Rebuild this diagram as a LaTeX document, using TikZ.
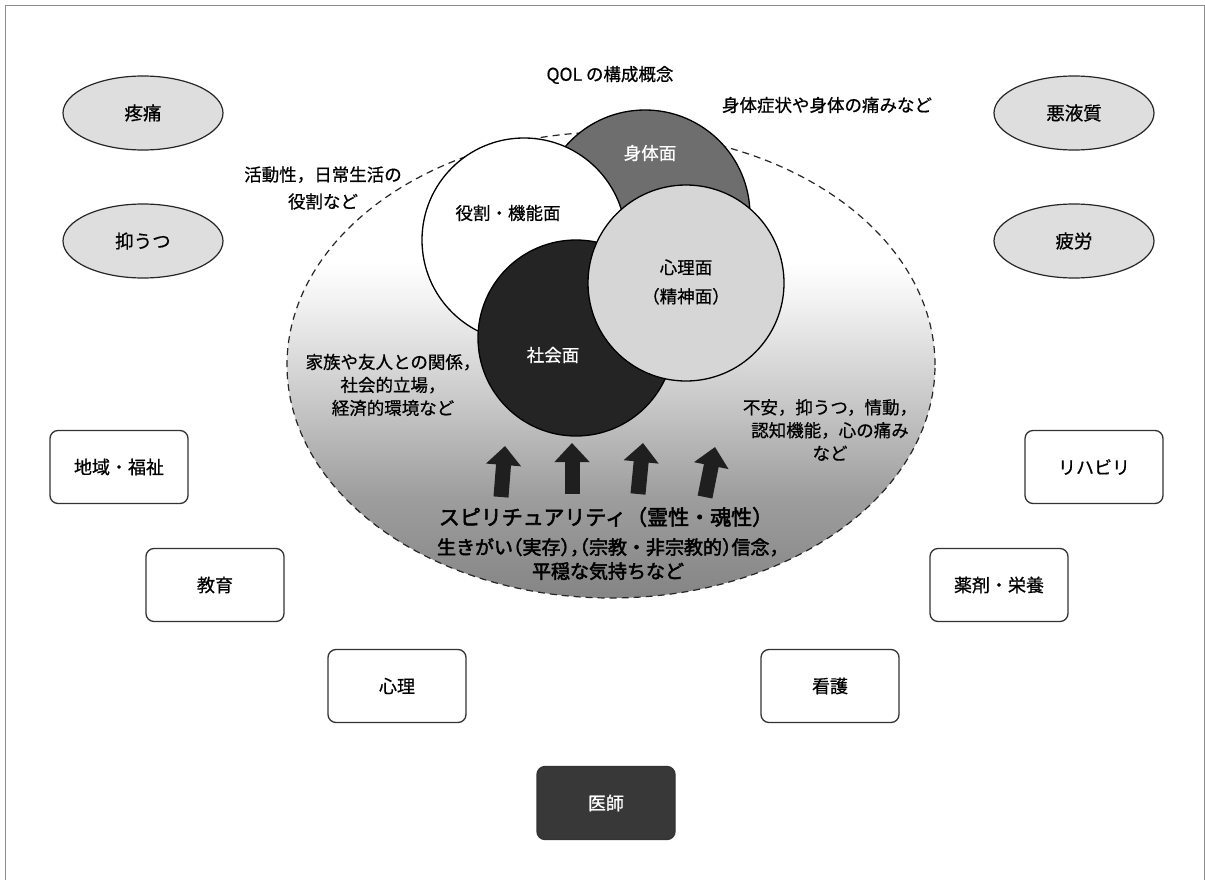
\documentclass[tikz,border=0pt]{standalone}
\usepackage{fontspec}
\setmainfont{Noto Sans CJK JP}[FakeBold=0.7]
\newfontfamily\jpbold{Noto Sans CJK JP}[FakeBold=2.5]
\newfontfamily\jpboldh{Noto Sans CJK JP}[FakeBold=2.2,RawFeature=+halt]
\newcommand{\halfp}[1]{{\jpboldh #1}}
\usetikzlibrary{arrows.meta,shapes.geometric}
\pgfdeclareverticalshading{qolshade}{100bp}{color(0bp)=(black!48); color(25bp)=(black!48); color(36bp)=(black!38); color(47bp)=(black!20); color(57bp)=(black!5); color(61bp)=(white); color(100bp)=(white)}
\begin{document}
\begin{tikzpicture}[x=1pt,y=-1pt,
  frame/.style={draw=black!45, line width=1pt},
  sym/.style={ellipse, draw=black!85, line width=1.2pt, fill=black!13, minimum width=160pt, minimum height=74pt, inner sep=0pt, font=\fontsize{18.5}{20}\selectfont},
  team/.style={rectangle, rounded corners=8pt, draw=black!80, line width=1.3pt, fill=white, minimum width=138pt, minimum height=73pt, font=\fontsize{18}{20}\selectfont},
  lbl/.style={align=center, font=\fontsize{17.5}{23}\selectfont, inner sep=0pt},
  face/.style={circle, draw=black, line width=1.3pt, inner sep=0pt},
  outer/.style={ellipse, draw=black!85, line width=1.2pt, dash pattern=on 7pt off 5pt, shading=qolshade, inner sep=0pt, minimum width=648pt, minimum height=466pt},
  bigarrow/.style={draw=black!88, line width=15pt, -{Triangle[length=19pt,width=34pt]}}
]
\useasboundingbox (0,0) rectangle (1205,880);
\fill[white] (0,0) rectangle (1205,880);
\draw[frame] (5,880) -- (5,6) -- (1204,6) -- (1204,880);

\node[lbl] (title) at (610,75) {QOL の構成概念};

% big dashed ellipse
\node[outer] (qol) at (611,365) {};

% four aspects
\node[face, fill=black!57, minimum size=210pt] (body) at (645,215) {};
\node[face, fill=white, minimum size=204pt] (role) at (524,240) {};
\node[face, fill=black!86, minimum size=196pt] (social) at (576,338) {};
\node[face, fill=black!16, minimum size=196pt] (mind) at (686,283) {};

\node[lbl, text=white] (bodyt) at (650,153) {身体面};
\node[lbl] (rolet) at (508,213) {役割・機能面};
\node[lbl, font=\fontsize{17.5}{29}\selectfont] (mindt) at (686,282) {心理面\\（精神面）};
\node[lbl, text=white] (socialt) at (553,355) {社会面};

% descriptions
\node[lbl] (bodyn) at (827,105) {身体症状や身体の痛みなど};
\node[lbl, font=\fontsize{17.5}{27}\selectfont] (rolen) at (323,188) {活動性，日常生活の\\役割など};
\node[lbl] (socn) at (393,385) {家族や友人との関係，\\社会的立場，\\経済的環境など};
\node[lbl] (mindn) at (830,430) {不安，抑うつ，情動，\\認知機能，心の痛み\\など};

% arrows
\coordinate (a1s) at (501,497); \coordinate (a1t) at (505,446);
\coordinate (a2s) at (572,494); \coordinate (a2t) at (572,443);
\coordinate (a3s) at (638,494); \coordinate (a3t) at (643,443);
\coordinate (a4s) at (705,497); \coordinate (a4t) at (715,447);
\draw[bigarrow] (a1s) -- (a1t);
\draw[bigarrow] (a2s) -- (a2t);
\draw[bigarrow] (a3s) -- (a3t);
\draw[bigarrow] (a4s) -- (a4t);

\node[lbl, font=\jpbold\fontsize{21}{22}\selectfont] (spirit) at (606,517) {スピリチュアリティ（霊性・魂性）};
\node[lbl, font=\jpbold\fontsize{19}{24}\selectfont] (spiritn) at (608,559) {生きがい\halfp{（}実存\halfp{），（}宗教・非宗教的\halfp{）}信念\halfp{，}\\平穏な気持ちなど};

% symptoms
\node[sym] (pain) at (143,113) {疼痛};
\node[sym] (dep) at (143,241) {抑うつ};
\node[sym] (cach) at (1074,113) {悪液質};
\node[sym] (fat) at (1074,241) {疲労};

% team
\node[team] (comm) at (119,467) {地域・福祉};
\node[team] (edu) at (215,585) {教育};
\node[team] (psy) at (397,686) {心理};
\node[team, fill=black!78, text=white] (doc) at (606,803) {医師};
\node[team] (nurse) at (830,686) {看護};
\node[team] (drug) at (999,585) {薬剤・栄養};
\node[team] (rehab) at (1094,467) {リハビリ};
\end{tikzpicture}
\end{document}
